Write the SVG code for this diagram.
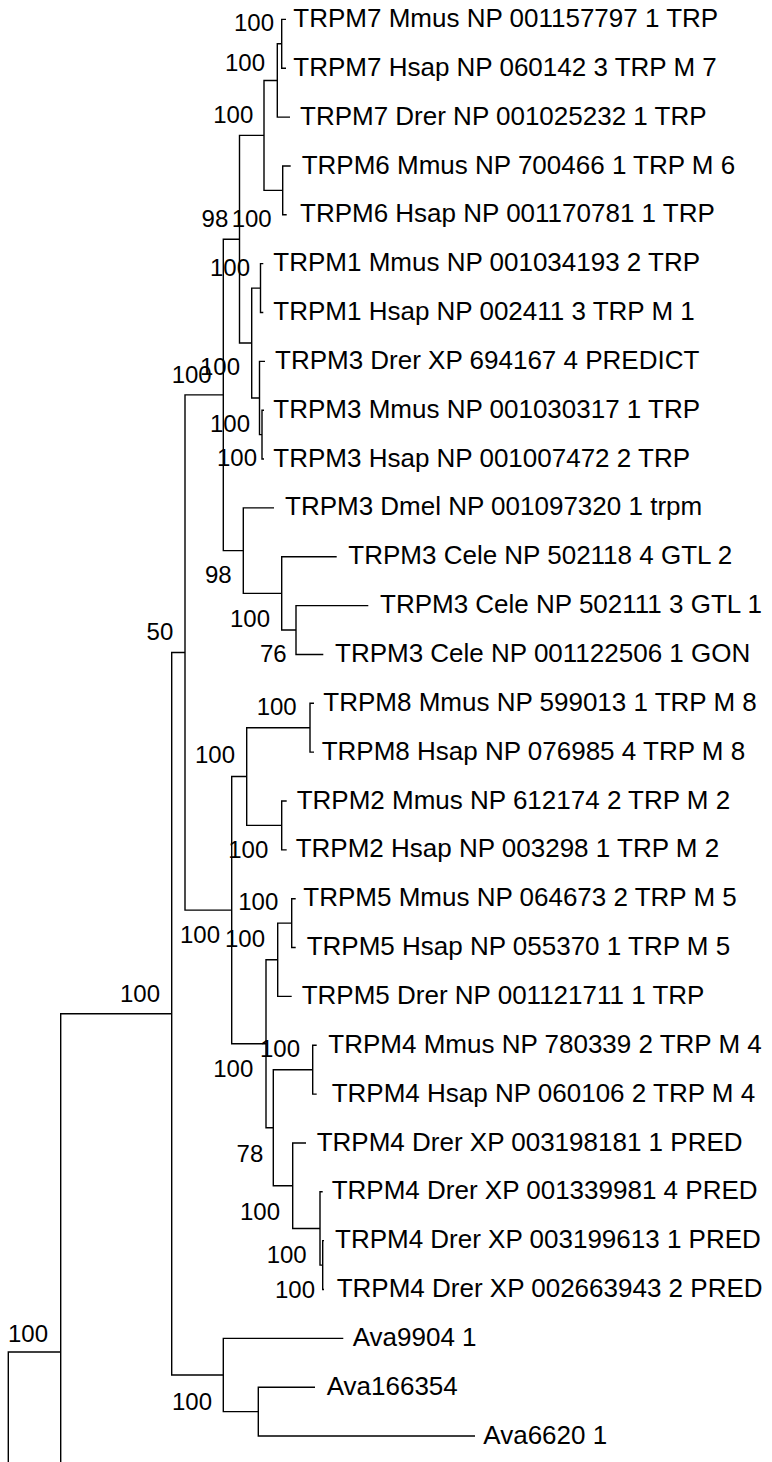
<svg xmlns="http://www.w3.org/2000/svg" width="772" height="1462" viewBox="0 0 772 1462">
<style>
.e{fill:none;stroke:#000;stroke-width:1.4;stroke-linejoin:miter;stroke-linecap:butt}
.t{font-family:"Liberation Sans",Arial,Helvetica,sans-serif;font-size:26px;fill:#000}
.b{font-family:"Liberation Sans",Arial,Helvetica,sans-serif;font-size:24px;fill:#000;text-anchor:end}
</style>
<rect width="772" height="1462" fill="#fff"/>
<g id="connectors">
<path class="e" d="M286,19.4 H281.7 V68.25 H286"/>
<path class="e" d="M281.7,43.8 H277.3 V117.1 H290"/>
<path class="e" d="M290.7,165.95 H282.7 V214.8 H286.7"/>
<path class="e" d="M277.3,80.45 H264 V190.4 H282.7"/>
<path class="e" d="M263.3,263.65 H260.5 V312.5 H263.3"/>
<path class="e" d="M264,410.2 H262 V459.05 H264"/>
<path class="e" d="M265,361.35 H259.5 V434.6 H262"/>
<path class="e" d="M260.5,288.1 H251.7 V398 H259.5"/>
<path class="e" d="M264,135.4 H239.5 V343.05 H251.7"/>
<path class="e" d="M368.3,605.6 H296 V654.45 H323.3"/>
<path class="e" d="M336.7,556.75 H281.7 V630 H296"/>
<path class="e" d="M274,507.9 H243.3 V593.4 H281.7"/>
<path class="e" d="M239.5,239.2 H223.3 V550.65 H243.3"/>
<path class="e" d="M314,703.3 H310 V752.15 H314"/>
<path class="e" d="M286.7,801 H281.7 V849.85 H286.7"/>
<path class="e" d="M310,727.7 H246.7 V825.4 H281.7"/>
<path class="e" d="M295.7,898.7 H291.7 V947.55 H295.7"/>
<path class="e" d="M291.7,923.1 H277.7 V996.4 H291.7"/>
<path class="e" d="M316.7,1045.25 H312.7 V1094.1 H316.7"/>
<path class="e" d="M324,1240.65 H322.7 V1289.5 H324"/>
<path class="e" d="M322.7,1191.8 H320 V1265.1 H322.7"/>
<path class="e" d="M306,1142.95 H292.7 V1228.45 H320"/>
<path class="e" d="M312.7,1069.7 H273.3 V1185.7 H292.7"/>
<path class="e" d="M277.7,959.75 H266 V1127.7 H273.3"/>
<path class="e" d="M246.7,776.55 H231.7 V1043.7 H266"/>
<path class="e" d="M223.3,394.9 H185 V910.1 H231.7"/>
<path class="e" d="M315,1387.2 H258.3 V1436.05 H475"/>
<path class="e" d="M343.3,1338.35 H223.3 V1411.6 H258.3"/>
<path class="e" d="M185,652.5 H171.7 V1375 H223.3"/>
<path class="e" d="M171.7,1013.75 H60.7 V1470"/>
<path class="e" d="M60.7,1352 H8.3 V1470"/>
</g>
<g id="leaves">
<g id="leaf0"><text class="t" x="293.3" y="27">TRPM7 Mmus NP 001157797 1 TRP</text></g>
<g id="leaf1"><text class="t" x="293.3" y="75.8">TRPM7 Hsap NP 060142 3 TRP M 7</text></g>
<g id="leaf2"><text class="t" x="300" y="124.6">TRPM7 Drer NP 001025232 1 TRP</text></g>
<g id="leaf3"><text class="t" x="301.7" y="173.5">TRPM6 Mmus NP 700466 1 TRP M 6</text></g>
<g id="leaf4"><text class="t" x="300" y="222.3">TRPM6 Hsap NP 001170781 1 TRP</text></g>
<g id="leaf5"><text class="t" x="273.3" y="271.2">TRPM1 Mmus NP 001034193 2 TRP</text></g>
<g id="leaf6"><text class="t" x="273.3" y="320">TRPM1 Hsap NP 002411 3 TRP M 1</text></g>
<g id="leaf7"><text class="t" x="275" y="368.9">TRPM3 Drer XP 694167 4 PREDICT</text></g>
<g id="leaf8"><text class="t" x="273.3" y="417.7">TRPM3 Mmus NP 001030317 1 TRP</text></g>
<g id="leaf9"><text class="t" x="273.3" y="466.6">TRPM3 Hsap NP 001007472 2 TRP</text></g>
<g id="leaf10"><text class="t" x="285" y="515.4">TRPM3 Dmel NP 001097320 1 trpm</text></g>
<g id="leaf11"><text class="t" x="348.3" y="564.3">TRPM3 Cele NP 502118 4 GTL 2</text></g>
<g id="leaf12"><text class="t" x="380" y="613.1">TRPM3 Cele NP 502111 3 GTL 1</text></g>
<g id="leaf13"><text class="t" x="335" y="662">TRPM3 Cele NP 001122506 1 GON</text></g>
<g id="leaf14"><text class="t" x="323.3" y="710.8">TRPM8 Mmus NP 599013 1 TRP M 8</text></g>
<g id="leaf15"><text class="t" x="321.7" y="759.7">TRPM8 Hsap NP 076985 4 TRP M 8</text></g>
<g id="leaf16"><text class="t" x="296.7" y="808.5">TRPM2 Mmus NP 612174 2 TRP M 2</text></g>
<g id="leaf17"><text class="t" x="295.7" y="857.4">TRPM2 Hsap NP 003298 1 TRP M 2</text></g>
<g id="leaf18"><text class="t" x="303.3" y="906.2">TRPM5 Mmus NP 064673 2 TRP M 5</text></g>
<g id="leaf19"><text class="t" x="306.7" y="955.1">TRPM5 Hsap NP 055370 1 TRP M 5</text></g>
<g id="leaf20"><text class="t" x="301.7" y="1003.9">TRPM5 Drer NP 001121711 1 TRP</text></g>
<g id="leaf21"><text class="t" x="328.3" y="1052.8">TRPM4 Mmus NP 780339 2 TRP M 4</text></g>
<g id="leaf22"><text class="t" x="331.7" y="1101.6">TRPM4 Hsap NP 060106 2 TRP M 4</text></g>
<g id="leaf23"><text class="t" x="316.7" y="1150.5">TRPM4 Drer XP 003198181 1 PRED</text></g>
<g id="leaf24"><text class="t" x="331.7" y="1199.3">TRPM4 Drer XP 001339981 4 PRED</text></g>
<g id="leaf25"><text class="t" x="335" y="1248.2">TRPM4 Drer XP 003199613 1 PRED</text></g>
<g id="leaf26"><text class="t" x="336.7" y="1297">TRPM4 Drer XP 002663943 2 PRED</text></g>
<g id="leaf27"><text class="t" x="352.7" y="1345.9">Ava9904 1</text></g>
<g id="leaf28"><text class="t" x="326.7" y="1394.7">Ava166354</text></g>
<g id="leaf29"><text class="t" x="483.3" y="1443.6">Ava6620 1</text></g>
</g>
<g id="support">
<g id="nA"><text class="b" x="274" y="30.7">100</text></g>
<g id="nB"><text class="b" x="265" y="70.7">100</text></g>
<g id="nC"><text class="b" x="253.3" y="122.7">100</text></g>
<g id="nE"><text class="b" x="228.3" y="226.7">98</text></g>
<g id="nD"><text class="b" x="271.7" y="226.7">100</text></g>
<g id="nG"><text class="b" x="250" y="276">100</text></g>
<g id="nK"><text class="b" x="211.7" y="383.3">100</text></g>
<g id="nF"><text class="b" x="240" y="375">100</text></g>
<g id="nH"><text class="b" x="250" y="431.7">100</text></g>
<g id="nI"><text class="b" x="257" y="466">100</text></g>
<g id="nM"><text class="b" x="231.7" y="583.3">98</text></g>
<g id="nN"><text class="b" x="270" y="626.7">100</text></g>
<g id="nO"><text class="b" x="286.7" y="662">76</text></g>
<g id="nJ"><text class="b" x="173.3" y="640">50</text></g>
<g id="nP"><text class="b" x="296.7" y="715">100</text></g>
<g id="nQ"><text class="b" x="235" y="763.3">100</text></g>
<g id="nR"><text class="b" x="268.3" y="858.3">100</text></g>
<g id="nU"><text class="b" x="278.3" y="910">100</text></g>
<g id="nL"><text class="b" x="220" y="943.3">100</text></g>
<g id="nT"><text class="b" x="265" y="947.3">100</text></g>
<g id="nW"><text class="b" x="300" y="1056.7">100</text></g>
<g id="nS"><text class="b" x="253.3" y="1076.7">100</text></g>
<g id="nV"><text class="b" x="263.3" y="1161.7">78</text></g>
<g id="nX"><text class="b" x="280" y="1220">100</text></g>
<g id="nY"><text class="b" x="306.7" y="1263.3">100</text></g>
<g id="nZ"><text class="b" x="315" y="1298.3">100</text></g>
<g id="nR2"><text class="b" x="160" y="1001.7">100</text></g>
<g id="nN60"><text class="b" x="48" y="1341.7">100</text></g>
<g id="nAva"><text class="b" x="212" y="1410">100</text></g>
</g>
</svg>
